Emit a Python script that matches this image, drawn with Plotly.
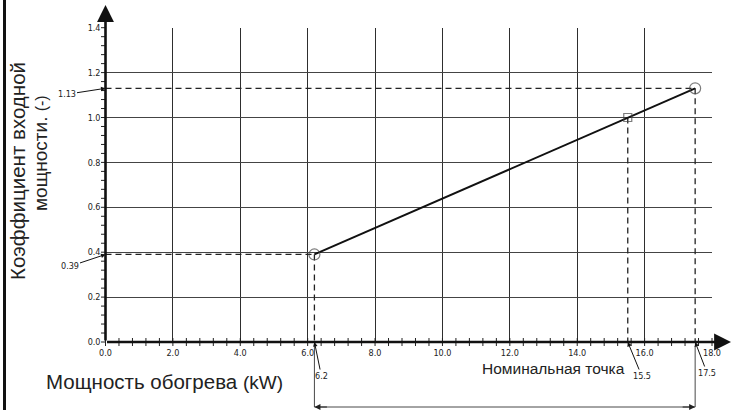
import numpy as np
import plotly.graph_objects as go

# ---- data -------------------------------------------------------------
power_kw = [6.2, 15.5, 17.5]          # heating power, kW
input_coef = [0.39, 1.00, 1.13]       # input power coefficient
point_symbols = ["circle-open", "square-open", "circle-open"]
point_sizes = [11, 8, 11]

x_tick_vals = [0, 2, 4, 6, 8, 10, 12, 14, 16, 18]
y_tick_vals = [0.0, 0.2, 0.4, 0.6, 0.8, 1.0, 1.2, 1.4]
x_minor_step = 0.4
y_minor_step = 0.04

x_callouts = ["6.2", "15.5", "17.5"]
y_callouts = ["0.39", "1.13"]

y_title_1 = "Коэффициент входной"
y_title_2 = "мощности."
y_unit = "(-)"
x_title = "Мощность обогрева"
x_unit = "(kW)"
nominal_label = "Номинальная точка"

# ---- page geometry (pixels) -------------------------------------------
W, H = 732, 410
PX_X0, PX_X18 = 105.5, 712.0     # pixel columns of x = 0 and x = 18
PX_Y0, PX_Y14 = 342.0, 27.7      # pixel rows of y = 0 and y = 1.4
X_MAX, Y_MAX = 18.0, 1.4

sx = (PX_X18 - PX_X0) / X_MAX
sy = (PX_Y0 - PX_Y14) / Y_MAX


def dx(px):
    """pixel offset -> x units"""
    return px / sx


def dy(px):
    """pixel offset (downwards) -> y units (upwards)"""
    return -px / sy


def paper_x(px):
    return px / W


def paper_y(py):
    return 1 - py / H


NARROW = "Liberation Sans Narrow, DejaVu Sans Condensed, Arial Narrow, Liberation Sans, sans-serif"
SANS = "Liberation Sans, Arial, Helvetica, sans-serif"
INK = "#222222"

fig = go.Figure()

# grid subplot needs a trace of its own so that its axes are drawn
fig.add_trace(go.Scatter(x=[None], y=[None], mode="lines", xaxis="x", yaxis="y",
                         hoverinfo="skip", showlegend=False))

# ---- full-page overlay axes share the same scale as the grid axes -----
full_x = [dx(-PX_X0), dx(W - PX_X0)]
full_y = [dy(H - PX_Y0), dy(-PX_Y0)]

bottom_y = dy(407 - PX_Y0)   # dimension line row
top_axis_y = dy(5 - PX_Y0)   # tip of the y arrow
right_axis_x = dx(731 - PX_X0)


def seg(xs0, ys0, xs1, ys1):
    xs, ys = [], []
    for a, b, c, d in zip(xs0, ys0, xs1, ys1):
        xs += [a, c, None]
        ys += [b, d, None]
    return xs, ys


# tick marks crossing the x axis and left of the y axis
xt = np.round(np.arange(0, X_MAX + 1e-9, x_minor_step), 3)
tx, ty = seg(xt, [dy(4)] * len(xt), xt, [dy(-4)] * len(xt))
fig.add_trace(go.Scatter(x=tx, y=ty, mode="lines", line=dict(color=INK, width=1),
                         xaxis="x2", yaxis="y2", hoverinfo="skip", showlegend=False))
yt = np.round(np.arange(0, Y_MAX + 1e-9, y_minor_step), 3)
tx, ty = seg([dx(-4.5)] * len(yt), yt, [0] * len(yt), yt)
fig.add_trace(go.Scatter(x=tx, y=ty, mode="lines", line=dict(color=INK, width=1),
                         xaxis="x2", yaxis="y2", hoverinfo="skip", showlegend=False))

# dashed projection lines from the points to the axes
hx, hy = seg([0, 0], [input_coef[0], input_coef[2]],
             [power_kw[0], power_kw[2]], [input_coef[0], input_coef[2]])
vx, vy = seg(power_kw, input_coef, power_kw, [0] * len(power_kw))
fig.add_trace(go.Scatter(x=hx + vx, y=hy + vy, mode="lines",
                         line=dict(color="#222222", width=1.3, dash="6px,4px"),
                         xaxis="x2", yaxis="y2", hoverinfo="skip", showlegend=False))

# extension lines down to the dimension line, and the dimension line itself
ex, ey = seg([power_kw[0], power_kw[2], power_kw[0]], [dy(4), dy(4), bottom_y],
             [power_kw[0], power_kw[2], power_kw[2]], [bottom_y, bottom_y, bottom_y])
fig.add_trace(go.Scatter(x=ex, y=ey, mode="lines", line=dict(color="#333333", width=0.9),
                         xaxis="x2", yaxis="y2", hoverinfo="skip", showlegend=False))

# characteristic line and its points
fig.add_trace(go.Scatter(x=power_kw, y=input_coef, mode="lines+markers",
                         line=dict(color="#111111", width=2),
                         marker=dict(symbol=point_symbols, size=point_sizes, color="#444444",
                                     line=dict(color="#444444", width=1.2)),
                         xaxis="x2", yaxis="y2", hoverinfo="skip", showlegend=False))

annotations = []

# axis arrows
annotations.append(dict(x=0, y=top_axis_y, ax=0, ay=0, xref="x2", yref="y2",
                        axref="x2", ayref="y2", text="", showarrow=True,
                        arrowhead=2, arrowsize=1.3, arrowwidth=2.6, arrowcolor="#111111"))
annotations.append(dict(x=right_axis_x, y=0, ax=0, ay=0, xref="x2", yref="y2",
                        axref="x2", ayref="y2", text="", showarrow=True,
                        arrowhead=2, arrowsize=1.3, arrowwidth=2.6, arrowcolor="#111111"))

# arrow heads at both ends of the dimension line
for end, back in ((power_kw[0], power_kw[0] + dx(14)), (power_kw[2], power_kw[2] - dx(14))):
    annotations.append(dict(x=end, y=bottom_y, ax=back, ay=bottom_y, xref="x2", yref="y2",
                            axref="x2", ayref="y2", text="", showarrow=True,
                            arrowhead=2, arrowsize=1.2, arrowwidth=1, arrowcolor="#222222"))

# value call-outs on the x axis
x_offsets = [(7, 34), (14, 34), (12, 31)]
for val, lab, (ox, oy) in zip(power_kw, x_callouts, x_offsets):
    annotations.append(dict(x=val, y=0, xref="x2", yref="y2", text=lab, showarrow=True,
                            ax=ox, ay=oy, arrowhead=2, arrowsize=0.9, arrowwidth=1,
                            arrowcolor="#111111", font=dict(family=NARROW, size=9, color=INK)))

# value call-outs on the y axis
y_offsets = [(-36, 12), (-39, 6)]
for val, lab, (ox, oy) in zip([input_coef[0], input_coef[2]], y_callouts, y_offsets):
    annotations.append(dict(x=0, y=val, xref="x2", yref="y2", text=lab, showarrow=True,
                            ax=ox, ay=oy, arrowhead=2, arrowsize=0.9, arrowwidth=1,
                            arrowcolor="#111111", font=dict(family=NARROW, size=9, color=INK)))

# titles
annotations.append(dict(x=paper_x(18), y=paper_y(171), xref="paper", yref="paper",
                        xanchor="center", yanchor="middle",
                        text=y_title_1, textangle=-90, showarrow=False,
                        font=dict(family=SANS, size=20.5, color=INK)))
annotations.append(dict(x=paper_x(40), y=paper_y(153), xref="paper", yref="paper",
                        xanchor="center", yanchor="middle",
                        text=y_title_2 + " <span style='font-size:16px'>" + y_unit + "</span>",
                        textangle=-90, showarrow=False,
                        font=dict(family=SANS, size=19, color=INK)))
annotations.append(dict(x=paper_x(44), y=paper_y(381), xref="paper", yref="paper",
                        xanchor="left", yanchor="middle",
                        text=x_title + " <span style='font-size:19px'>" + x_unit + "</span>",
                        showarrow=False, font=dict(family=SANS, size=20.5, color=INK)))
annotations.append(dict(x=paper_x(553), y=paper_y(368), xref="paper", yref="paper",
                        xanchor="center", yanchor="middle",
                        text=nominal_label, showarrow=False,
                        font=dict(family=SANS, size=15.5, color=INK)))

fig.update_layout(
    width=W, height=H,
    margin=dict(l=0, r=0, t=0, b=0, autoexpand=False),
    paper_bgcolor="white", plot_bgcolor="rgba(0,0,0,0)",
    showlegend=False,
    xaxis=dict(domain=[paper_x(PX_X0), paper_x(PX_X18)], range=[0, X_MAX],
               tickvals=x_tick_vals, tickformat=".1f", ticks="", showline=False,
               zeroline=False, showgrid=True, gridcolor="#2e2e2e", gridwidth=1,
               tickfont=dict(family=NARROW, size=9, color=INK), anchor="y",
               ticklabelstandoff=4, fixedrange=True, automargin=False),
    yaxis=dict(domain=[paper_y(PX_Y0), paper_y(PX_Y14)], range=[0, Y_MAX],
               tickvals=y_tick_vals, tickformat=".1f", ticks="", showline=False,
               zeroline=False, showgrid=True, gridcolor="#444444", gridwidth=1,
               tickfont=dict(family=NARROW, size=9, color=INK), anchor="x",
               ticklabelstandoff=4, fixedrange=True, automargin=False),
    xaxis2=dict(domain=[0, 1], range=full_x, visible=False, anchor="y2", fixedrange=True),
    yaxis2=dict(domain=[0, 1], range=full_y, visible=False, anchor="x2", fixedrange=True),
    annotations=annotations,
    shapes=[dict(type="line", xref="paper", yref="paper", x0=paper_x(4.5), x1=paper_x(4.5),
                 y0=0, y1=1, line=dict(color="#111111", width=3))],
)

fig.write_html("out.html")
